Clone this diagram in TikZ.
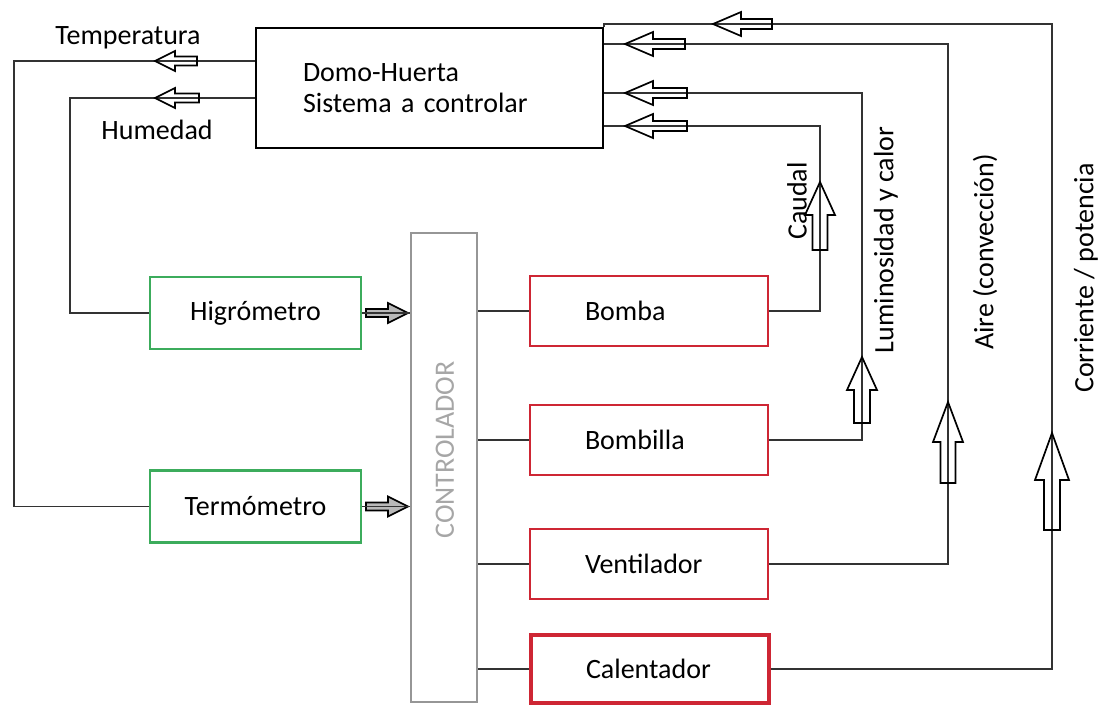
\documentclass[tikz,border=0pt]{standalone}
\usepackage{fontspec}
\setmainfont{Carlito}
\usepackage{tikz}
\usetikzlibrary{positioning}
\definecolor{sensgreen}{RGB}{60,172,92}
\definecolor{actred}{RGB}{206,38,52}
\definecolor{ctrlgray}{RGB}{150,150,150}
\newcommand{\hollowarrow}[7][]{%
  \draw[line width=1.7pt,shift={#2},rotate=#3,#1]
    (0,0) -- (#5,#6) -- (#5,#7) -- (#4,#7) -- (#4,-#7) -- (#5,-#7) -- (#5,-#6) -- cycle;}

\begin{document}
\begin{tikzpicture}[x=1pt,y=-1pt,
  font=\fontsize{28}{31}\selectfont,
  wire/.style={line width=1.8pt,draw=black!80},
  plant/.style={draw,line width=2.6pt,minimum height=120pt,
                text width=253pt,inner xsep=47pt,align=left},
  sensor/.style={draw=sensgreen,line width=2.2pt,minimum width=211pt,minimum height=72pt},
  actuator/.style={draw=actred,line width=2.2pt,minimum height=70pt,
                   text width=128pt,inner xsep=55pt,align=left},
  ctrlbox/.style={draw=ctrlgray,line width=2.2pt,minimum width=66pt,minimum height=469pt}
]
  \useasboundingbox (0,0) rectangle (1101,707);

  \node[plant] (domo) at (429.5,88) {Domo-Huerta\\Sistema a controlar};
  \node[sensor] (higro) at (255.5,313) {Higrómetro};
  \node[sensor] (termo) at (255.5,506.5) {Termómetro};
  \node[ctrlbox] (ctrl) at (444,467.5) {};
  \node[rotate=90,text=ctrlgray!85] (ctrltxt) at (445,450) {CONTROLADOR};

  \node[actuator] (bomba) at (649,311) {Bomba};
  \node[actuator] (bombilla) at (649,440) {Bombilla};
  \node[actuator] (ventilador) at (649,564) {Ventilador};
  \node[actuator,line width=3.2pt,minimum height=68pt] (calentador) at (650,669) {Calentador};

  % salidas medidas
  \node (temp) at (128,38) {Temperatura};
  \node (hum) at (157,130) {Humedad};
  \coordinate (tleft) at (14,61);
  \coordinate (hleft) at (70,98);
  \draw[wire] (domo.west |- tleft) -- (tleft) |- (termo.west);
  \draw[wire] (domo.west |- hleft) -- (hleft) |- (higro.west);
  \hollowarrow{(155,61)}{0}{42}{20}{10}{4.5}
  \hollowarrow{(155,98)}{0}{44}{20}{10}{4.5}

  % sensores al controlador
  \hollowarrow[fill=gray!55]{(408,313)}{180}{42}{20}{10}{4}
  \hollowarrow[fill=gray!55]{(408,506.5)}{180}{42}{20}{10}{4}
  \draw[wire] (higro.east) -- (higro.east -| ctrl.west);
  \draw[wire] (termo.east) -- (termo.east -| ctrl.west);

  % controlador a actuadores
  \foreach \a in {bomba,bombilla,ventilador}
    \draw[wire] (ctrl.east |- \a.west) -- (\a.west);
  \draw[wire,line width=2.8pt] (ctrl.east |- calentador.west) -- (calentador.west);

  % actuadores al domo
  \coordinate (caudalup) at (820,126);
  \coordinate (lumup) at (862,93);
  \coordinate (aireup) at (948,44);
  \coordinate (corrup) at (1052,24);
  \draw[wire] (bomba.east) -| (caudalup) -- (caudalup -| domo.east);
  \draw[wire] (bombilla.east) -| (lumup) -- (lumup -| domo.east);
  \draw[wire] (ventilador.east) -| (aireup) -- (aireup -| domo.east);
  \draw[wire] (calentador.east) -| (corrup) -- (corrup -| domo.east) -- (domo.north east);

  \hollowarrow{(625,126)}{0}{62}{28}{12}{5}
  \hollowarrow{(625,93)}{0}{62}{28}{12}{5}
  \hollowarrow{(625,44)}{0}{60}{28}{12}{5}
  \hollowarrow{(713,24)}{0}{59}{28}{12}{5}
  \hollowarrow{(820,182)}{-90}{68}{33}{15}{7.5}
  \hollowarrow{(862,357)}{-90}{66}{33}{15}{8}
  \hollowarrow{(948,402)}{-90}{81}{40}{15}{7.5}
  \hollowarrow{(1052,433)}{-90}{97}{47}{17}{8}

  \node[rotate=90] (caudal) at (797,201) {Caudal};
  \node[rotate=90] (lum) at (886,240) {Luminosidad y calor};
  \node[rotate=90] (aire) at (985,252) {Aire (convección)};
  \node[rotate=90] (corr) at (1086,278) {Corriente / potencia};
\end{tikzpicture}
\end{document}
